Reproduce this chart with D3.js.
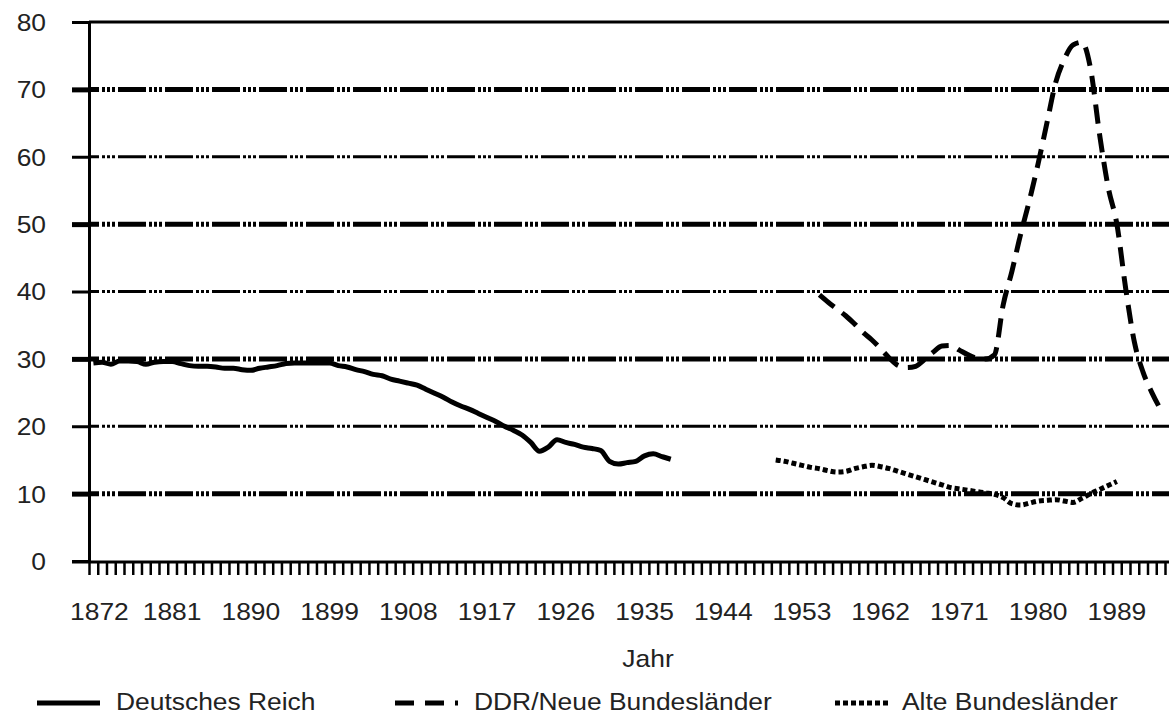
<!DOCTYPE html>
<html>
<head>
<meta charset="utf-8">
<script src="https://cdn.jsdelivr.net/npm/d3@7"></script>
<style>
  body { margin: 0; background: #fff; }
  text { font-family: "Liberation Sans", Arial, Helvetica, sans-serif; fill: #222; }
</style>
</head>
<body>
<svg width="1169" height="715"></svg>
<script>
// categories on the x axis: one per year
var years = d3.range(1872, 1995);
var labelYears = [1872, 1881, 1890, 1899, 1908, 1917, 1926, 1935, 1944, 1953, 1962, 1971, 1980, 1989];
var yTicks = [0, 10, 20, 30, 40, 50, 60, 70, 80];

// Deutsches Reich 1872-1938
var reichStart = 1872;
var reichValues = [
  29.4, 29.5, 29.2, 29.7, 29.7, 29.6, 29.2, 29.5, 29.6, 29.6,
  29.3, 29.0, 28.9, 28.9, 28.8, 28.6, 28.6, 28.4, 28.3, 28.6,
  28.8, 29.0, 29.3, 29.4, 29.4, 29.4, 29.4, 29.4, 29.0, 28.8,
  28.4, 28.1, 27.7, 27.5, 27.0, 26.7, 26.4, 26.1, 25.5, 24.9,
  24.3, 23.6, 23.0, 22.5, 21.9, 21.3, 20.7, 20.0, 19.4, 18.7,
  17.6, 16.3, 16.9, 18.0, 17.6, 17.3, 16.9, 16.7, 16.4, 14.8,
  14.4, 14.6, 14.8, 15.6, 15.9, 15.5, 15.1
];

// DDR / Neue Bundeslaender 1955-1994
var ddrStart = 1955;
var ddrValues = [
  39.5, 38.4, 37.4, 36.4, 35.2, 33.9, 32.8, 31.5, 30.1, 29.0,
  28.7, 28.9, 29.9, 31.0, 31.9, 32.0, 31.3, 30.6, 30.1, 30.0,
  30.6, 38.0, 43.0, 48.5, 53.5, 59.0, 65.0, 71.0, 74.5, 76.6,
  77.0, 73.0, 63.5, 55.5, 50.0, 40.5, 32.5, 28.0, 25.0, 22.5
];

// Alte Bundeslaender 1950-1989
var altStart = 1950;
var altValues = [
  15.0, 14.8, 14.5, 14.2, 13.9, 13.7, 13.4, 13.2, 13.3, 13.7,
  14.0, 14.2, 14.0, 13.7, 13.3, 12.9, 12.5, 12.1, 11.7, 11.3,
  10.9, 10.7, 10.5, 10.3, 10.1, 9.9, 9.4, 8.5, 8.3, 8.6,
  8.9, 9.0, 9.1, 8.9, 8.7, 9.3, 10.0, 10.6, 11.2, 11.8
];

var seriesNames = ["Deutsches Reich", "DDR/Neue Bundesländer", "Alte Bundesländer"];

var svg = d3.select("svg"),
  width = +svg.attr("width"),
  height = +svg.attr("height");

var plotLeft = 89, plotRight = 1165, plotTop = 22, plotBottom = 561;
var fontSize = 24, stretch = 1.1;

var x = d3.scaleBand().domain(years).range([plotLeft, plotRight]);
var xEdge = d3.scaleLinear().domain([0, years.length]).range([plotLeft, plotRight]);
var y = d3.scaleLinear().domain([0, 80]).range([plotBottom, plotTop]);

function xc(yr) {
  return x(yr) + x.bandwidth() / 2;
}

function toPoints(start, values) {
  return values.map(function (v, i) {
    return { year: start + i, value: v };
  });
}

// gridlines
svg
  .append("g")
  .selectAll("line")
  .data(yTicks.filter(function (d) { return d > 0; }))
  .enter()
  .append("line")
  .attr("x1", plotLeft)
  .attr("x2", width)
  .attr("y1", function (d) { return y(d); })
  .attr("y2", function (d) { return y(d); })
  .attr("stroke", "#000")
  .attr("stroke-width", function (d) {
    if (d === 80) return 3;
    return d % 20 === 10 ? 5 : 3;
  })
  .attr("stroke-dasharray", function (d) {
    return d === 80 ? null : "28,3,3,2,3,2,3,3";
  })
  .attr("stroke-dashoffset", 18);

// y axis
var yAxis = svg
  .append("g")
  .attr("transform", "translate(" + plotLeft + ",0)")
  .call(d3.axisLeft(y).tickValues(yTicks).tickSize(17).tickSizeOuter(0));
yAxis.select(".domain").attr("stroke", "#000").attr("stroke-width", 3);
yAxis.selectAll(".tick line")
  .attr("stroke", "#000")
  .attr("stroke-width", function (d) {
    if (d === 0 || d === 80) return 3;
    return d % 20 === 10 ? 5 : 3;
  });
yAxis.selectAll(".tick text")
  .attr("x", 0)
  .attr("dy", "0.35em")
  .attr("transform", "translate(-43,0) scale(" + stretch + ",1)")
  .style("font-size", fontSize + "px")
  .attr("fill", "#222");

// bottom axis line and year ticks
svg
  .append("line")
  .attr("x1", 72)
  .attr("x2", width)
  .attr("y1", plotBottom + 1)
  .attr("y2", plotBottom + 1)
  .attr("stroke", "#000")
  .attr("stroke-width", 3);

var tickAxis = svg
  .append("g")
  .attr("transform", "translate(0," + (plotBottom + 1) + ")")
  .call(
    d3.axisBottom(xEdge)
      .tickValues(d3.range(0, years.length + 1))
      .tickFormat("")
      .tickSize(13)
      .tickSizeOuter(0)
  );
tickAxis.select(".domain").remove();
tickAxis.selectAll(".tick line").attr("stroke", "#000").attr("stroke-width", 2.5);

var xAxis = svg
  .append("g")
  .attr("transform", "translate(0," + (plotBottom + 1) + ")")
  .call(d3.axisBottom(x).tickValues(labelYears).tickSize(0).tickPadding(0));
xAxis.select(".domain").remove();
xAxis.selectAll(".tick text")
  .attr("y", 0)
  .attr("dy", 0)
  .attr("transform", function (d, i) {
    return "translate(" + (i === 0 ? 6 : 0) + ",58) scale(" + stretch + ",1)";
  })
  .style("font-size", fontSize + "px")
  .attr("fill", "#222");

// axis title
svg
  .append("text")
  .attr("transform", "translate(648,667) scale(" + stretch + ",1)")
  .attr("text-anchor", "middle")
  .style("font-size", fontSize + "px")
  .text("Jahr");

// lines
var line = d3
  .line()
  .x(function (d) { return xc(d.year); })
  .y(function (d) { return y(d.value); })
  .curve(d3.curveMonotoneX);

var series = [
  { name: seriesNames[0], points: toPoints(reichStart, reichValues), dash: null },
  { name: seriesNames[1], points: toPoints(ddrStart, ddrValues), dash: "19,10" },
  { name: seriesNames[2], points: toPoints(altStart, altValues), dash: "5,3" }
];

svg
  .append("g")
  .selectAll("path")
  .data(series)
  .enter()
  .append("path")
  .attr("d", function (d) { return line(d.points); })
  .attr("fill", "none")
  .attr("stroke", "#000")
  .attr("stroke-width", 5)
  .attr("stroke-dasharray", function (d) { return d.dash; });

// legend
var legend = [
  { name: seriesNames[0], x1: 37, x2: 100, tx: 116, dash: null },
  { name: seriesNames[1], x1: 395, x2: 459, tx: 474, dash: "19,11,19,11,3,40" },
  { name: seriesNames[2], x1: 835, x2: 891, tx: 902, dash: "5,3" }
];

var lg = svg
  .append("g")
  .selectAll("g")
  .data(legend)
  .enter()
  .append("g");

lg.append("line")
  .attr("x1", function (d) { return d.x1; })
  .attr("x2", function (d) { return d.x2; })
  .attr("y1", 703)
  .attr("y2", 703)
  .attr("stroke", "#000")
  .attr("stroke-width", 5)
  .attr("stroke-dasharray", function (d) { return d.dash; });

lg.append("text")
  .attr("transform", function (d) {
    return "translate(" + d.tx + ",710) scale(" + stretch + ",1)";
  })
  .style("font-size", fontSize + "px")
  .text(function (d) { return d.name; });
</script>
</body>
</html>
